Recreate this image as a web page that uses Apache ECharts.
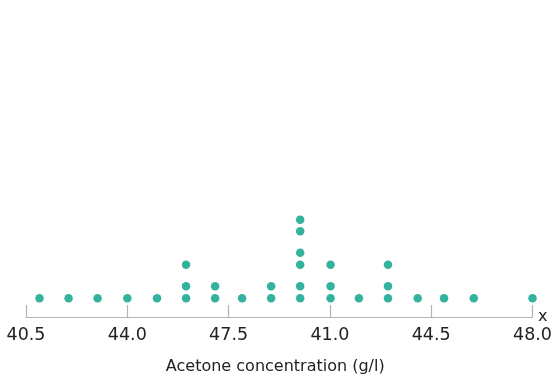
<!DOCTYPE html>
<html><head><meta charset="utf-8">
<script src="https://cdn.jsdelivr.net/npm/echarts@6/dist/echarts.min.js"></script>
<style>html,body{margin:0;padding:0;background:#fff}#c{width:555px;height:380px}</style>
</head><body><div id="c"></div>
<script>
// Dot positions (g/l, on the drawn scale) and number of stacked dots at each
const xValues = [40.70, 41.13, 41.56, 42.00, 42.44, 42.87, 43.30, 43.70, 44.13, 44.56, 45.01, 45.43, 45.86, 46.30, 46.69, 47.13, 48.00];
const counts  = [1, 1, 1, 1, 1, 3, 2, 1, 2, 6, 3, 1, 3, 1, 1, 1, 1];
// Tick labels as printed in the figure
const tickLabels = ['40.5', '44.0', '47.5', '41.0', '44.5', '48.0'];
const tickValues = [40.5, 42.0, 43.5, 45.0, 46.5, 48.0];
// Vertical offset of each stacked dot level (in dot units)
const levelOffsets = [0, 1, 2.81, 3.81, 5.62, 6.58];
const baseLevel = 1.57;

const points = [];
xValues.forEach((x, i) => {
  for (let k = 0; k < counts[i]; k++) points.push([x, baseLevel + levelOffsets[k]]);
});

const FONT = 'DejaVu Sans';
const chart = echarts.init(document.getElementById('c'));
chart.setOption({
  animation: false,
  grid: { left: 26, right: 21, top: 18.5, bottom: 61.5 },
  xAxis: {
    type: 'value', min: 40.5, max: 48, interval: 1.5,
    splitLine: { show: false },
    axisLine: { show: true, lineStyle: { color: '#b3b3b3', width: 1.2 } },
    axisTick: { show: true, inside: true, length: 12, lineStyle: { color: '#b3b3b3', width: 1.2 } },
    axisLabel: {
      margin: 9, fontSize: 17.5, color: '#222', fontFamily: FONT,
      formatter: v => { const i = tickValues.findIndex(t => Math.abs(t - v) < 1e-6); return i >= 0 ? tickLabels[i] : ''; }
    },
    name: 'Acetone concentration (g/l)', nameLocation: 'middle', nameGap: 42,
    nameTextStyle: { fontSize: 16, color: '#222', fontFamily: FONT, padding: [0, 8, 0, 0] }
  },
  yAxis: { type: 'value', min: 0, max: 25, show: false },
  graphic: [{ type: 'text', left: 538, top: 309, style: { text: 'x', fontSize: 16, fill: '#222', fontFamily: FONT } }],
  series: [{
    type: 'scatter', data: points, symbolSize: 8.5,
    itemStyle: { color: '#00a086' }
  }]
});
</script></body></html>
